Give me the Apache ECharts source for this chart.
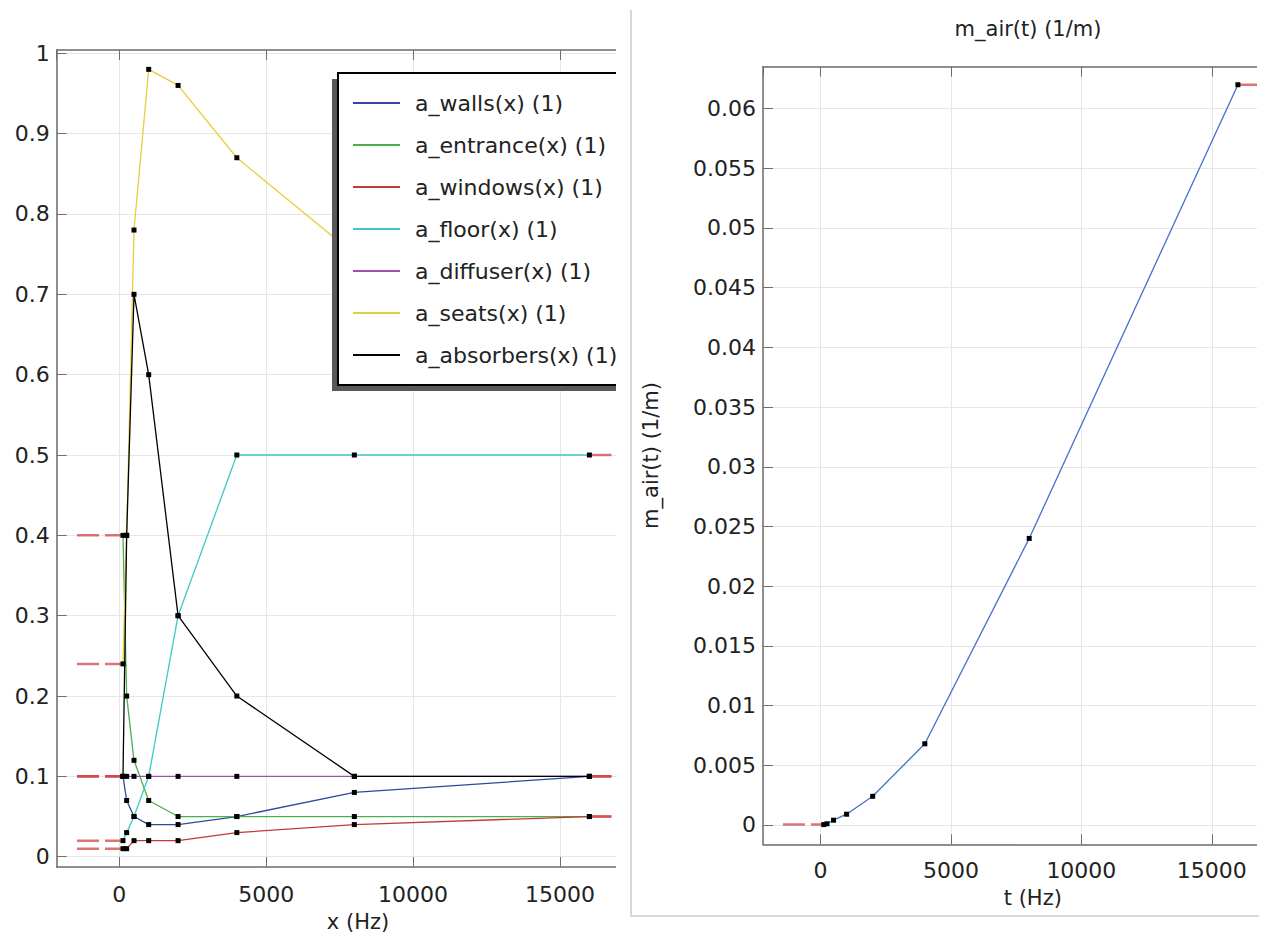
<!DOCTYPE html>
<html>
<head>
<meta charset="utf-8">
<script src="https://cdn.jsdelivr.net/npm/echarts@6/dist/echarts.min.js"></script>
<style>
html,body{margin:0;padding:0;background:#fff;width:1262px;height:937px;overflow:hidden;}
#leftWrap{position:absolute;left:0;top:0;width:616px;height:937px;overflow:hidden;}
#left{position:absolute;left:0;top:0;width:700px;height:937px;}
#rightWrap{position:absolute;left:632px;top:0;width:625px;height:937px;overflow:hidden;}
#right{position:absolute;left:0;top:0;width:720px;height:937px;}
#frame{position:absolute;left:630px;top:10px;width:627px;height:905px;border-left:2px solid #d8d8d8;border-bottom:2px solid #d8d8d8;pointer-events:none;}
</style>
</head>
<body>
<div id="leftWrap"><div id="left"></div></div>
<div id="rightWrap"><div id="right"></div></div>
<div id="frame"></div>
<script>
// ---- data ----
const freqs = [125, 250, 500, 1000, 2000, 4000, 8000, 16000];
const aWalls = [0.1, 0.07, 0.05, 0.04, 0.04, 0.05, 0.08, 0.1];
const aEntrance = [0.4, 0.2, 0.12, 0.07, 0.05, 0.05, 0.05, 0.05];
const aWindows = [0.01, 0.01, 0.02, 0.02, 0.02, 0.03, 0.04, 0.05];
const aFloor = [0.02, 0.03, 0.05, 0.1, 0.3, 0.5, 0.5, 0.5];
const aDiffuser = [0.1, 0.1, 0.1, 0.1, 0.1, 0.1, 0.1, 0.1];
const aSeats = [0.24, 0.4, 0.78, 0.98, 0.96, 0.87, 0.75, 0.7];
const aAbsorbers = [0.1, 0.4, 0.7, 0.6, 0.3, 0.2, 0.1, 0.1];
const mAir = [0.00003, 0.0001, 0.0004, 0.0009, 0.0024, 0.0068, 0.024, 0.062];
const seriesNames = ['a_walls(x) (1)', 'a_entrance(x) (1)', 'a_windows(x) (1)', 'a_floor(x) (1)',
  'a_diffuser(x) (1)', 'a_seats(x) (1)', 'a_absorbers(x) (1)'];
const extrapRange = [-1440, 17560];
const leftXRange = [-2131, 18380];
const leftYRange = [-0.0128, 1.0041];
const rightXRange = [-2204, 18480];
const rightYRange = [-0.00162, 0.06351];

// ---- styles ----
const FONT = 'DejaVu Sans';
const seriesValues = [aWalls, aEntrance, aWindows, aFloor, aDiffuser, aSeats, aAbsorbers];
const colors = ['#2c4a9e', '#4cae4c', '#c03a3a', '#3cc8c8', '#a050b0', '#e6cf3c', '#000000'];
const axisColor = '#6e6e6e';
const gridColor = '#e6e6e6';
const extrapStyle = {color: 'rgba(210,70,70,0.75)', width: 2.5, type: [22, 6]};

function fmt(v) { return String(Math.round(v * 1e5) / 1e5); }

function axisPair(range, split, isX, name, nameGap, labelMargin) {
  const main = {
    type: 'value', min: range[0], max: range[1], splitNumber: split,
    position: isX ? 'bottom' : 'left',
    axisLine: {show: true, onZero: false, lineStyle: {color: axisColor, width: 1.5}},
    axisTick: {show: true, inside: true, length: 10, lineStyle: {color: axisColor, width: 1}},
    axisLabel: {show: true, margin: labelMargin, fontSize: 22, fontFamily: FONT, color: '#222',
      formatter: fmt, showMinLabel: false, showMaxLabel: false},
    splitLine: {show: true, lineStyle: {color: gridColor, width: 1}}
  };
  if (name) {
    main.name = name; main.nameLocation = 'middle'; main.nameGap = nameGap;
    main.nameTextStyle = {fontSize: 21, fontFamily: FONT, color: '#222'};
  }
  const mirror = {
    type: 'value', min: range[0], max: range[1], splitNumber: split,
    position: isX ? 'top' : 'right',
    axisLine: {show: true, onZero: false, lineStyle: {color: axisColor, width: 1.5}},
    axisTick: {show: true, inside: true, length: 10, lineStyle: {color: axisColor, width: 1}},
    axisLabel: {show: false}, splitLine: {show: false}
  };
  return [main, mirror];
}

function extrapSeries(vals, xIdx, yIdx) {
  const n = vals.length;
  return [
    {type: 'line', data: [[extrapRange[0], vals[0]], [freqs[0], vals[0]]], symbol: 'none',
      lineStyle: extrapStyle, z: 1, silent: true, animation: false, xAxisIndex: xIdx, yAxisIndex: yIdx},
    {type: 'line', data: [[freqs[n - 1], vals[n - 1]], [extrapRange[1], vals[n - 1]]], symbol: 'none',
      lineStyle: extrapStyle, z: 1, silent: true, animation: false, xAxisIndex: xIdx, yAxisIndex: yIdx}
  ];
}

function mainSeries(name, vals, color) {
  return {type: 'line', name: name, data: freqs.map((f, i) => [f, vals[i]]),
    symbol: 'rect', symbolSize: 5, itemStyle: {color: '#000'},
    lineStyle: {color: color, width: 1.3}, z: 2, animation: false,
    emphasis: {disabled: true}, xAxisIndex: 0, yAxisIndex: 0};
}

// ---- left chart ----
const leftSeries = [];
seriesValues.forEach(v => leftSeries.push(...extrapSeries(v, 0, 0)));
seriesValues.forEach((v, i) => leftSeries.push(mainSeries(seriesNames[i], v, colors[i])));

const leftChart = echarts.init(document.getElementById('left'), null, {renderer: 'svg'});
const lx = axisPair(leftXRange, 4, true, 'x (Hz)', 44, 16);
const ly = axisPair(leftYRange, 10, false, null, 0, 7);
leftChart.setOption({
  animation: false,
  grid: {left: 56.7, top: 50, width: 602.6, height: 818, containLabel: false},
  xAxis: lx,
  yAxis: ly,
  legend: {
    show: true, orient: 'vertical', left: 338, top: 73, selectedMode: false,
    backgroundColor: '#fff', borderColor: '#000', borderWidth: 2,
    padding: [19, 20, 19, 15], itemGap: 20, itemWidth: 47, itemHeight: 2,
    textStyle: {fontSize: 22, fontFamily: FONT, color: '#222', padding: [0, 0, 0, 10]},
    data: seriesNames.map((n, i) => ({name: n, icon: 'rect', itemStyle: {color: colors[i]}})),
    z: 5
  },
  graphic: [{type: 'rect', shape: {x: 332, y: 79, width: 400, height: 312},
    style: {fill: '#5a5a5a'}, z: 3, silent: true}],
  series: leftSeries
});

// ---- right chart ----
const rightChart = echarts.init(document.getElementById('right'), null, {renderer: 'svg'});
const rx = axisPair(rightXRange, 4, true, 't (Hz)', 43, 15);
const ry = axisPair(rightYRange, 13, false, 'm_air(t) (1/m)', 102, 7);
rightChart.setOption({
  animation: false,
  title: {text: 'm_air(t) (1/m)', left: 391, top: 13, textAlign: 'center',
    textStyle: {fontSize: 21, fontWeight: 'normal', fontFamily: FONT, color: '#222'}},
  grid: {left: 129, top: 66.7, width: 541.6, height: 777.6, containLabel: false},
  xAxis: rx,
  yAxis: ry,
  series: [
    ...extrapSeries(mAir, 0, 0),
    {type: 'line', name: 'm_air(t) (1/m)', data: freqs.map((f, i) => [f, mAir[i]]),
      symbol: 'rect', symbolSize: 5, itemStyle: {color: '#000'},
      lineStyle: {color: '#4470cc', width: 1.3}, z: 2, animation: false,
      emphasis: {disabled: true}}
  ]
});
</script>
</body>
</html>
